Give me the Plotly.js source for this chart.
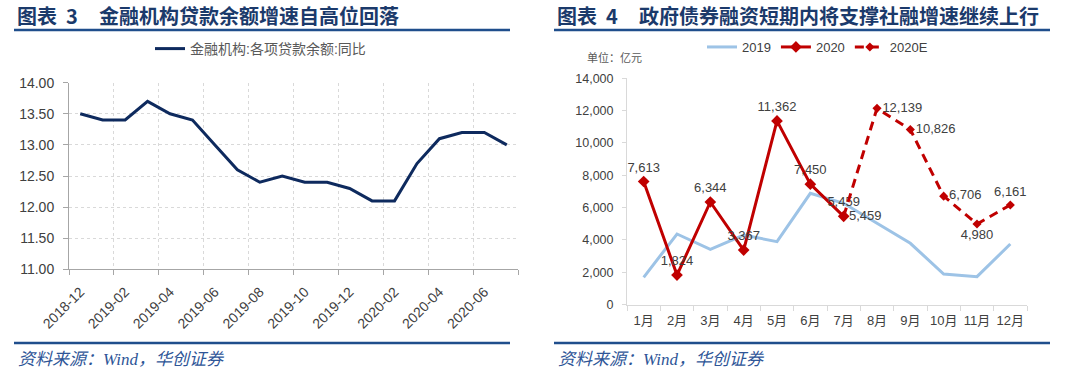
<!DOCTYPE html>
<html>
<head>
<meta charset="utf-8">
<script src="https://cdn.plot.ly/plotly-3.0.1.min.js"></script>
<style>html,body{margin:0;padding:0;background:#fff;}#chart{width:1080px;height:374px;}</style>
</head>
<body>
<div id="chart"></div>
<script>
// ---- Left chart data ----
const loanMonths = ['2018-12','2019-01','2019-02','2019-03','2019-04','2019-05','2019-06','2019-07','2019-08','2019-09','2019-10','2019-11','2019-12','2020-01','2020-02','2020-03','2020-04','2020-05','2020-06','2020-07'];
const loanGrowth = [13.5,13.4,13.4,13.7,13.5,13.4,13.0,12.6,12.4,12.5,12.4,12.4,12.3,12.1,12.1,12.7,13.1,13.2,13.2,13.0];
const loanSeriesName = '金融机构:各项贷款余额:同比';

// ---- Right chart data ----
const monthLabels = ['1月','2月','3月','4月','5月','6月','7月','8月','9月','10月','11月','12月'];
const gov2019 = [1683,4363,3415,4301,3888,6882,6263,5026,3788,1888,1721,3744];
const gov2020Months = ['1月','2月','3月','4月','5月','6月','7月'];
const gov2020 = [7613,1824,6344,3367,11362,7450,5459];
const gov2020EMonths = ['7月','8月','9月','10月','11月','12月'];
const gov2020E = [5459,12139,10826,6706,4980,6161];
const gov2020ELabelPos = ['middle right','middle right','middle right','middle right','bottom center','top center'];

const W = 1080, H = 374;
const px = v => v / W;
const py = v => 1 - v / H;

const numFont = 'Liberation Sans, Arial, sans-serif';
const cjkFont = 'Liberation Sans, Noto Sans CJK SC, sans-serif';
const titleFont = {family: 'Noto Sans CJK SC, sans-serif', size: 20, color: '#1B3A6B', weight: 'bold'};

const boundaries = loanMonths.map((_, i) => i - 0.5).concat([loanMonths.length - 0.5]).filter((v, i) => i % 2 === 0);

const traces = [
  {x: loanMonths, y: loanGrowth, type: 'scatter', mode: 'lines', name: loanSeriesName,
   line: {color: '#0E2A5E', width: 3}, xaxis: 'x', yaxis: 'y', legend: 'legend', hoverinfo: 'skip'},
  {x: [], y: [], type: 'scatter', mode: 'lines', xaxis: 'x3', yaxis: 'y', showlegend: false, hoverinfo: 'skip'},
  {x: monthLabels, y: gov2019, type: 'scatter', mode: 'lines', name: '2019',
   line: {color: '#9DC3E6', width: 3}, xaxis: 'x2', yaxis: 'y2', legend: 'legend2', hoverinfo: 'skip'},
  {x: gov2020Months, y: gov2020, type: 'scatter', mode: 'lines+markers+text', name: '2020',
   line: {color: '#C00000', width: 3}, marker: {symbol: 'diamond', size: 9, color: '#C00000'},
   texttemplate: '%{y:,.0f}', textposition: 'top center',
   textfont: {family: numFont, size: 13, color: '#404040'},
   xaxis: 'x2', yaxis: 'y2', legend: 'legend2', hoverinfo: 'skip', cliponaxis: false},
  {x: gov2020EMonths, y: gov2020E, type: 'scatter', mode: 'lines+markers+text', name: '2020E',
   line: {color: '#C00000', width: 3, dash: '9px,6px'}, marker: {symbol: 'diamond', size: 7, color: '#C00000'},
   texttemplate: '%{y:,.0f}', textposition: gov2020ELabelPos,
   textfont: {family: numFont, size: 13, color: '#404040'},
   xaxis: 'x2', yaxis: 'y2', legend: 'legend2', hoverinfo: 'skip', cliponaxis: false}
];

const axisGray = '#A6A6A6';
const layout = {
  width: W, height: H,
  margin: {l: 0, r: 0, t: 0, b: 0},
  paper_bgcolor: '#ffffff', plot_bgcolor: 'rgba(0,0,0,0)',
  showlegend: true,
  xaxis: {
    domain: [px(69), px(518)], anchor: 'y', type: 'category', range: [-0.5, loanMonths.length - 0.5],
    tickmode: 'array', tickvals: loanMonths.filter((_, i) => i % 2 === 0),
    tickangle: -45, ticks: '', showgrid: false, zeroline: false,
    showline: true, linecolor: axisGray, linewidth: 1,
    tickfont: {family: numFont, size: 14, color: '#404040'}, ticklabelstandoff: 8, fixedrange: true
  },
  xaxis3: {
    overlaying: 'x', anchor: 'y', type: 'linear', range: [-0.5, loanMonths.length - 0.5],
    tickmode: 'array', tickvals: boundaries, showticklabels: false,
    ticks: 'outside', ticklen: 5, tickcolor: axisGray,
    showgrid: true, gridcolor: '#D9D9D9', griddash: 'dot', gridwidth: 1, zeroline: false, showline: false
  },
  yaxis: {
    domain: [py(269.3), py(82.7)], anchor: 'x', range: [11, 14], dtick: 0.5, tickformat: '.2f',
    showline: true, linecolor: axisGray, ticks: 'outside', ticklen: 5, tickcolor: axisGray,
    showgrid: true, gridcolor: '#D9D9D9', griddash: 'dot', zeroline: false,
    tickfont: {family: numFont, size: 14, color: '#404040'}, ticklabelstandoff: 6, fixedrange: true
  },
  xaxis2: {
    domain: [px(627), px(1027)], anchor: 'y2', type: 'category', range: [-0.5, monthLabels.length - 0.5],
    categoryorder: 'array', categoryarray: monthLabels, tickangle: 0,
    tickson: 'boundaries', ticks: 'outside', ticklen: 5, tickcolor: '#D9D9D9',
    showline: true, linecolor: '#D9D9D9', showgrid: false, zeroline: false,
    tickfont: {family: cjkFont, size: 13, color: '#404040'}, ticklabelstandoff: 4, fixedrange: true
  },
  yaxis2: {
    domain: [py(304.5), py(78.3)], anchor: 'x2', range: [0, 14000], dtick: 2000, tickformat: ',',
    showline: true, linecolor: '#D9D9D9', ticks: 'outside', ticklen: 4, tickcolor: '#D9D9D9',
    showgrid: false, zeroline: false,
    tickfont: {family: numFont, size: 12.5, color: '#404040'}, ticklabelstandoff: 6, fixedrange: true
  },
  legend: {
    x: px(150), y: py(49), xanchor: 'left', yanchor: 'middle', orientation: 'h',
    font: {family: cjkFont, size: 14, color: '#595959'}, bgcolor: 'rgba(0,0,0,0)', borderwidth: 0
  },
  legend2: {
    x: px(702), y: py(47), xanchor: 'left', yanchor: 'middle', orientation: 'h',
    font: {family: numFont, size: 13, color: '#404040'}, bgcolor: 'rgba(0,0,0,0)', borderwidth: 0
  },
  shapes: [
    {type: 'line', xref: 'paper', yref: 'paper', x0: px(14), x1: px(510), y0: py(30), y1: py(30), line: {color: '#1F4E8C', width: 2.5}},
    {type: 'line', xref: 'paper', yref: 'paper', x0: px(554), x1: px(1050), y0: py(30), y1: py(30), line: {color: '#1F4E8C', width: 2.5}},
    {type: 'line', xref: 'paper', yref: 'paper', x0: px(14), x1: px(510), y0: py(343), y1: py(343), line: {color: '#1F4E8C', width: 2.5}},
    {type: 'line', xref: 'paper', yref: 'paper', x0: px(554), x1: px(1050), y0: py(343), y1: py(343), line: {color: '#1F4E8C', width: 2.5}}
  ],
  annotations: [
    {text: '图表', xref: 'paper', yref: 'paper', x: px(15), y: py(15), xanchor: 'left', yanchor: 'middle', showarrow: false, font: titleFont},
    {text: '3', xref: 'paper', yref: 'paper', x: px(64), y: py(15), xanchor: 'left', yanchor: 'middle', showarrow: false, font: titleFont},
    {text: '金融机构贷款余额增速自高位回落', xref: 'paper', yref: 'paper', x: px(97), y: py(15), xanchor: 'left', yanchor: 'middle', showarrow: false, font: titleFont},
    {text: '图表', xref: 'paper', yref: 'paper', x: px(555), y: py(15), xanchor: 'left', yanchor: 'middle', showarrow: false, font: titleFont},
    {text: '4', xref: 'paper', yref: 'paper', x: px(604), y: py(15), xanchor: 'left', yanchor: 'middle', showarrow: false, font: titleFont},
    {text: '政府债券融资短期内将支撑社融增速继续上行', xref: 'paper', yref: 'paper', x: px(637), y: py(15), xanchor: 'left', yanchor: 'middle', showarrow: false, font: titleFont},
    {text: '单位：亿元', xref: 'paper', yref: 'paper', x: px(585), y: py(57), xanchor: 'left', yanchor: 'middle', showarrow: false,
     font: {family: 'Noto Sans CJK SC, sans-serif', size: 11, color: '#595959'}},
    {text: '<i>资料来源：Wind，华创证券</i>', xref: 'paper', yref: 'paper', x: px(16), y: py(359), xanchor: 'left', yanchor: 'middle', showarrow: false,
     font: {family: 'Liberation Serif, Noto Sans CJK SC, serif', size: 17, color: '#2E5597'}},
    {text: '<i>资料来源：Wind，华创证券</i>', xref: 'paper', yref: 'paper', x: px(556), y: py(359), xanchor: 'left', yanchor: 'middle', showarrow: false,
     font: {family: 'Liberation Serif, Noto Sans CJK SC, serif', size: 17, color: '#2E5597'}}
  ]
};

Plotly.newPlot('chart', traces, layout, {displayModeBar: false, staticPlot: true});
</script>
</body>
</html>
